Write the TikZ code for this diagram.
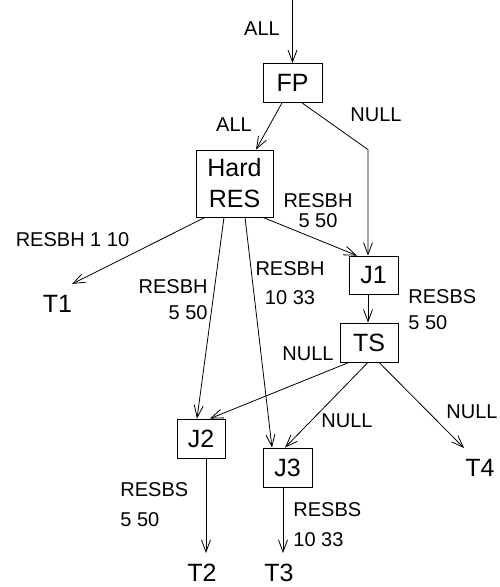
\documentclass[tikz,border=0pt]{standalone}
\usepackage{fontspec}
\setmainfont{Liberation Sans}
\usetikzlibrary{arrows.meta,calc}

\begin{document}
\begin{tikzpicture}[x=1pt,y=-1pt,line width=.8pt,
  box/.style={draw,inner sep=0pt,font=\fontsize{25}{30}\selectfont},
  term/.style={inner sep=0pt,font=\fontsize{25}{30}\selectfont},
  lab/.style={inner sep=0pt,font=\fontsize{20}{24}\selectfont},
  arr/.style={-{Straight Barb[length=12pt,width=9pt]}}]
\useasboundingbox (0,0) rectangle (499,587);
%boxes
\node[box,minimum width=59pt,minimum height=39pt] (fp) at (292.5,83){FP};
\node[box,minimum width=77pt,minimum height=67pt,align=center] (hard) at (234.5,183.5){Hard\\[1pt]RES};
\node[box,minimum width=49pt,minimum height=38pt] (j1) at (373.5,275){J1};
\node[box,minimum width=58pt,minimum height=39pt] (ts) at (369,342.5){TS};
\node[box,minimum width=48pt,minimum height=39pt] (j2) at (201,438.5){J2};
\node[box,minimum width=49pt,minimum height=39pt] (j3) at (287.5,467.5){J3};
%terminals
\node[term] (t1) at (57.5,304){T1};
\node[term] (t2) at (202,572.5){T2};
\node[term] (t3) at (279,572.5){T3};
\node[term] (t4) at (480,467.5){T4};
\coordinate (src) at (292.5,0);
\coordinate (j1in) at ($(j1.north)+(-5.5,0)$);
%edges
\draw[arr] (src) -- (fp.north);
\draw[arr] ($(fp.south)+(-10.5,0)$) -- ($(hard.north)+(21.5,0)$);
\draw[arr] ($(fp.south)+(9.5,0)$) -- (j1in |- hard.north) -- (j1in);
\draw[arr] ($(hard.south)+(-29.5,0)$) -- ($(t1)+(14.5,-20)$);
\draw[arr] ($(hard.south)+(-10.5,0)$) -- ($(j2.north)+(-4,0)$);
\draw[arr] ($(hard.south)+(10.5,0)$) -- ($(j3.north)+(-15.5,0)$);
\draw[arr] ($(hard.south)+(28.5,0)$) -- ($(j1.north)+(-16.5,0)$);
\draw[arr] ($(j1.south)+(-5.5,0)$) -- ($(ts.north)+(-1,0)$);
\draw[arr] ($(ts.south)+(-20,0)$) -- ($(j2.north)+(9,0)$);
\draw[arr] ($(ts.south)+(-1,0)$) -- ($(j3.north)+(-2.5,0)$);
\draw[arr] ($(ts.south)+(10,0)$) -- ($(t4)+(-16,-19.5)$);
\draw[arr] ($(j2.south)+(5,0)$) -- ($(t2)+(4,-19.5)$);
\draw[arr] ($(j3.south)+(-4.5,0)$) -- ($(t3)+(4,-19.5)$);
%labels
\node[lab] (l_all) at (262,29){ALL};
\node[lab] (l_all2) at (234,125){ALL};
\node[lab] (l_null) at (376,115){NULL};
\node[lab,align=center] (l_hj1) at (318,211){RESBH\\[-4pt]5 50};
\node[lab] (l_ht1) at (72.5,240){RESBH 1 10};
\node[lab,align=right,anchor=east] (l_hj2) at (208,300){RESBH\\[2pt]5 50};
\node[lab,align=center] (l_hj3) at (290,283.5){RESBH\\[5pt]10 33};
\node[lab,align=left,anchor=west] (l_j1ts) at (408,310){RESBS\\[2pt]5 50};
\node[lab] (l_tsj2) at (308,354){NULL};
\node[lab] (l_tsj3) at (347,421){NULL};
\node[lab] (l_tst4) at (472,412){NULL};
\node[lab,align=left,anchor=west] (l_j2t2) at (120,504.5){RESBS\\[6pt]5 50};
\node[lab,align=left,anchor=west] (l_j3t3) at (293,524.5){RESBS\\[6pt]10 33};
\end{tikzpicture}
\end{document}
